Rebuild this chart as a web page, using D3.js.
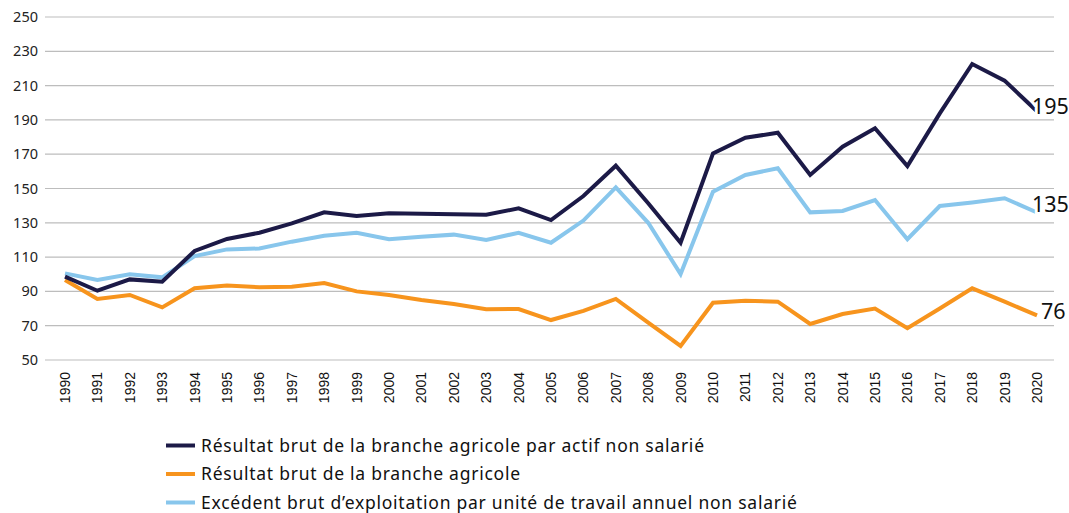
<!DOCTYPE html>
<html lang="fr">
<head>
  <meta charset="UTF-8" />
  <title>Résultat brut agricole</title>
  <script src="https://d3js.org/d3.v7.min.js"></script>
  <style>
    body { margin: 0; background: #fff; }
    svg { display: block; }
    .ylab { font-family: 'Noto Sans', sans-serif; font-size: 14.5px; fill: #222; }
    .xlab { font-family: 'Liberation Sans', Arial, sans-serif; font-size: 14px; fill: #111; }
    .legend text { font-family: 'Noto Sans', sans-serif; font-size: 17.5px; letter-spacing: 0.75px; fill: #111; }
    .endlab { font-family: 'Noto Sans', sans-serif; font-size: 21.5px; fill: #111; }
  </style>
</head>
<body>
  <svg id="chart" width="1069" height="513"></svg>
  <script>
    // données
    const years = d3.range(1990, 2021);
    const yTicks = [50, 70, 90, 110, 130, 150, 170, 190, 210, 230, 250];

    const parActif = [98.6, 90.4, 97, 95.7, 113.6, 120.6, 124.2, 129.7, 136.1, 134,
      135.5, 135.3, 135, 134.7, 138.4, 131.6, 145.6, 163.3, 141.4, 118.4,
      170.5, 179.6, 182.5, 157.9, 174.4, 185.1, 163.1, 193.8, 222.6, 212.9, 195];
    const branche = [96.6, 85.6, 87.9, 80.7, 91.8, 93.5, 92.4, 92.7, 94.9, 90,
      87.9, 85, 82.7, 79.6, 79.7, 73.3, 78.6, 85.6, 71.8, 58.2,
      83.4, 84.6, 84, 71, 76.8, 80, 68.5, 80, 91.8, 84, 76];
    const ebe = [100.5, 96.6, 100, 98.2, 110.6, 114.5, 115, 119, 122.5, 124.2,
      120.4, 121.9, 123.1, 120, 124.2, 118.4, 131.3, 150.7, 130, 100.1,
      148.1, 157.9, 161.8, 136.1, 136.9, 143.3, 120.4, 139.8, 141.9, 144.3, 136];

    const series = [
      { name: "Résultat brut de la branche agricole par actif non salarié", values: parActif, color: "#1c1a47", end: "195" },
      { name: "Résultat brut de la branche agricole", values: branche, color: "#f7941d", end: "76" },
      { name: "Excédent brut d’exploitation par unité de travail annuel non salarié", values: ebe, color: "#88c6ec", end: "135" }
    ];

    const svg = d3.select("#chart");

    const x = d3.scaleLinear().domain([1990, 2020]).range([65, 1037]);
    const y = d3.scaleLinear().domain([50, 250]).range([360, 17]);

    // grille
    svg.append("g")
      .selectAll("line")
      .data(yTicks)
      .join("line")
      .attr("x1", 45).attr("x2", 1054)
      .attr("y1", d => y(d)).attr("y2", d => y(d))
      .attr("stroke", "#bdbdbd").attr("stroke-width", 1.2);

    // axe y
    svg.append("g")
      .selectAll("text")
      .data(yTicks)
      .join("text")
      .attr("class", "ylab")
      .attr("x", 38).attr("y", d => y(d))
      .attr("dy", "0.35em")
      .attr("text-anchor", "end")
      .text(d => d);

    // axe x (étiquettes verticales)
    svg.append("g")
      .selectAll("text")
      .data(years)
      .join("text")
      .attr("class", "xlab")
      .attr("transform", d => `translate(${x(d)},372) rotate(-90)`)
      .attr("dy", "0.36em")
      .attr("text-anchor", "end")
      .text(d => d);

    const line = d3.line()
      .x((d, i) => x(years[i]))
      .y(d => y(d));

    // tracé : orange, bleu clair puis bleu foncé au-dessus
    [series[1], series[2], series[0]].forEach(s => {
      svg.append("path")
        .datum(s.values)
        .attr("fill", "none")
        .attr("stroke", s.color)
        .attr("stroke-width", 4)
        .attr("stroke-linejoin", "miter")
        .attr("d", line);
    });

    // étiquettes de fin
    const endDx = [-5, 4, -5];
    const endDy = [-5, -4, -8];
    series.forEach((s, i) => {
      const v = s.values[s.values.length - 1];
      svg.append("text")
        .attr("class", "endlab")
        .attr("x", x(2020) + endDx[i])
        .attr("y", y(v) + endDy[i])
        .attr("dy", "0.36em")
        .attr("stroke", "#fff").attr("stroke-width", 6)
        .attr("paint-order", "stroke")
        .text(s.end);
    });

    // légende
    const legend = svg.append("g").attr("class", "legend");
    const legendY = [445.5, 474, 502.5];
    series.forEach((s, i) => {
      legend.append("line")
        .attr("x1", 166).attr("x2", 195)
        .attr("y1", legendY[i]).attr("y2", legendY[i])
        .attr("stroke", s.color).attr("stroke-width", 4);
      legend.append("text")
        .attr("x", 201).attr("y", legendY[i])
        .attr("dy", "0.35em")
        .text(s.name);
    });
  </script>
</body>
</html>
